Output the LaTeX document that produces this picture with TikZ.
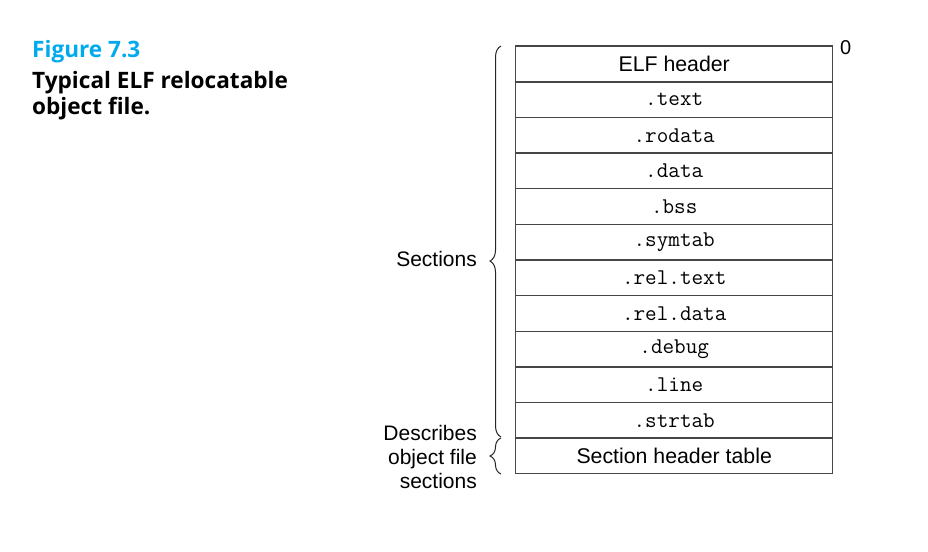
\documentclass[tikz,border=0pt]{standalone}
\usepackage{fontspec}
\setmainfont{Liberation Sans}
\newfontfamily\titlefont{Open Sans}
\usetikzlibrary{decorations.pathreplacing}
\definecolor{figcyan}{RGB}{0,170,236}
\definecolor{linegray}{RGB}{70,70,70}
\begin{document}
\begin{tikzpicture}[x=1pt,y=-1pt,
  cell/.style={draw=linegray,line width=1.4pt,minimum width=317pt,minimum height=35.625pt,inner sep=0pt,anchor=north west,
    font=\fontsize{21.3}{24}\selectfont},
  ttcell/.style={cell,font=\fontsize{22.5}{24}\selectfont\ttfamily},
  lbl/.style={font=\fontsize{21}{24}\selectfont,inner sep=0pt},
  bracestyle/.style={draw=black!85,line width=1pt,decorate,decoration={brace,amplitude=11pt,#1}}]
\useasboundingbox (0,0) rectangle (928,551);
\node[anchor=base west,inner sep=0pt,text=figcyan,font=\fontsize{22.6}{27}\selectfont\titlefont\bfseries] (fig) at (32,57) {Figure 7.3};
\node[anchor=base west,inner sep=0pt,align=left,font=\fontsize{22.6}{26}\selectfont\titlefont\bfseries] (cap) at (32,114) {Typical ELF relocatable\\object file.};
\def\rh{35.625}
\node[cell] (r0) at (515,45.5) {ELF header};
\node[ttcell] (r1) at (515,45.5+1*\rh) {.text};
\node[ttcell] (r2) at (515,45.5+2*\rh) {.rodata};
\node[ttcell] (r3) at (515,45.5+3*\rh) {.data};
\node[ttcell] (r4) at (515,45.5+4*\rh) {.bss};
\node[ttcell] (r5) at (515,45.5+5*\rh) {.symtab};
\node[ttcell] (r6) at (515,45.5+6*\rh) {.rel.text};
\node[ttcell] (r7) at (515,45.5+7*\rh) {.rel.data};
\node[ttcell] (r8) at (515,45.5+8*\rh) {.debug};
\node[ttcell] (r9) at (515,45.5+9*\rh) {.line};
\node[ttcell] (r10) at (515,45.5+10*\rh) {.strtab};
\node[cell] (r11) at (515,45.5+11*\rh) {Section header table};
\node[lbl,anchor=north west,font=\fontsize{20}{22}\selectfont] (zero) at (840,40) {0};
\coordinate (b1s) at (501,437);
\coordinate (b1e) at (501,46);
\coordinate (b2s) at (501,474);
\coordinate (b2e) at (501,438);
\draw[bracestyle={aspect=0.45}] (b1s) -- (b1e);
\draw[bracestyle={aspect=0.5}] (b2s) -- (b2e);
\node[lbl,anchor=base east] (sec) at (477,266) {Sections};
\node[lbl,anchor=east,align=right,font=\fontsize{21}{23.7}\selectfont] (desc) at (477,457) {Describes\\object file\\sections};
\end{tikzpicture}
\end{document}
